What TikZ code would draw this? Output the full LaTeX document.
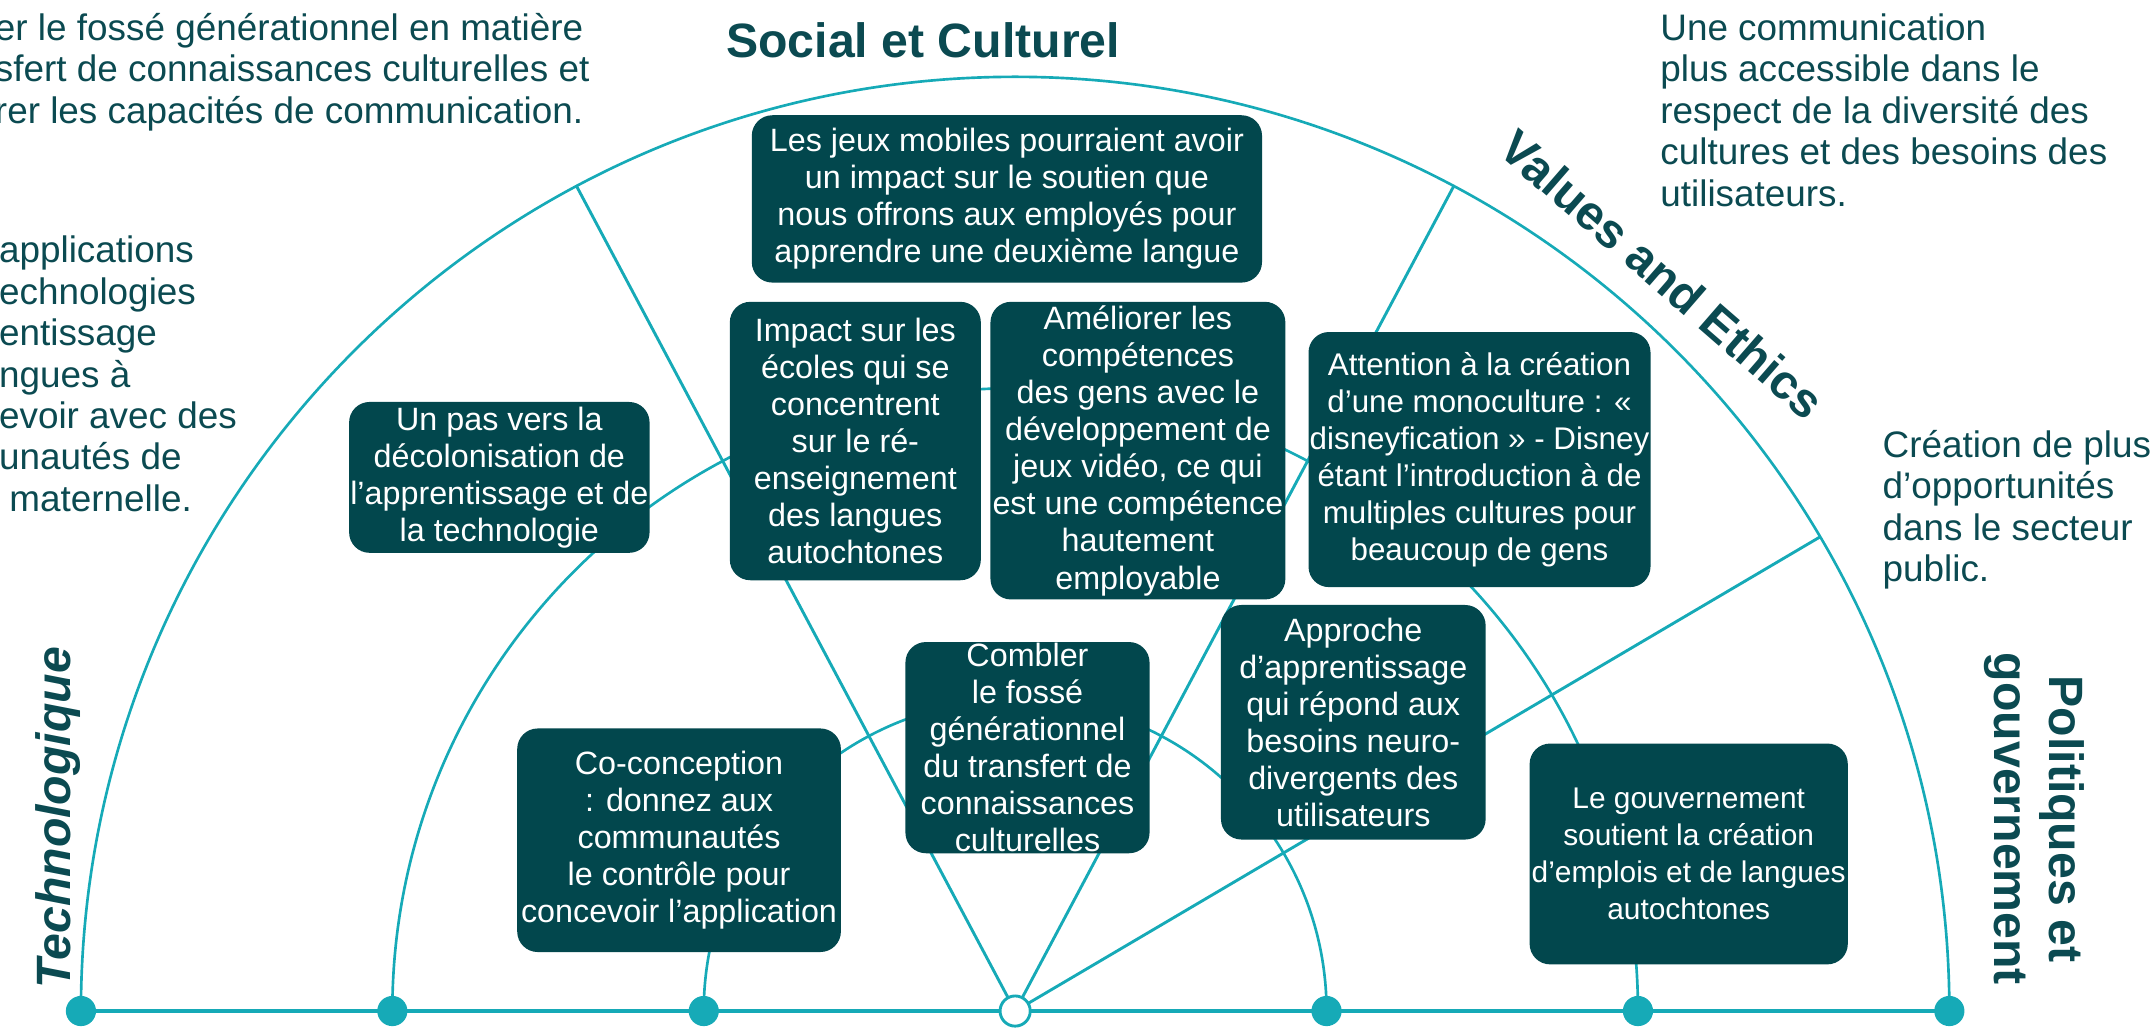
\documentclass[tikz,border=0pt]{standalone}
\usepackage{fontspec}
\setmainfont{Liberation Sans}
\usetikzlibrary{positioning,calc}

\definecolor{tealline}{HTML}{16AAB7}
\definecolor{tealbox}{HTML}{02474D}
\definecolor{tealtext}{HTML}{0B4A51}

\begin{document}
\begin{tikzpicture}[
    x=0.02cm, y=0.02cm,
    idea/.style={rectangle, rounded corners=8.5pt, fill=tealbox, text=white, align=center, inner xsep=0.5pt, inner ysep=0.5pt, font=\fontsize{13.4}{15.4}\selectfont},
    remark/.style={anchor=north west, inner sep=0pt, align=left, text=tealtext, font=\fontsize{15.3}{17.2}\selectfont},
    facet/.style={text=tealtext, align=center, inner sep=0pt, font=\fontsize{20}{23}\selectfont\bfseries},
    ring/.style={draw=tealline, line width=1.1pt},
    spoke/.style={draw=tealline, line width=1.2pt},
    basedot/.style={circle, fill=tealline, minimum size=0.44cm, inner sep=0pt}
]

% Frame
\useasboundingbox (0,0) rectangle (1568,-750);

% Points on the base line
\foreach \i/\xx in {1/59,2/286,3/513,4/740,5/967,6/1194,7/1421}
    \coordinate (p\i) at (\xx,-737);

% Rings
\draw[ring] (p1) arc[start angle=180, end angle=0, radius=681];
\draw[ring] (p2) arc[start angle=180, end angle=0, radius=454];
\draw[ring] (p3) arc[start angle=180, end angle=0, radius=227];

% Spokes
\coordinate (rim1) at ([shift={(30.5:681)}]p4);
\coordinate (rim2) at ([shift={(62:681)}]p4);
\coordinate (rim3) at ([shift={(118:681)}]p4);
\draw[spoke] (p4) -- (rim1);
\draw[spoke] (p4) -- (rim2);
\draw[spoke] (p4) -- (rim3);

% Base line and dots
\draw[tealline, line width=1.7pt] (p1) -- (p7);
\foreach \i in {1,2,3,5,6,7}
    \node[basedot] (d\i) at (p\i) {};
\node[basedot, fill=white, draw=tealline, line width=1.2pt] (hub) at (p4) {};

% Ideas
\node[idea, minimum width=7.44cm, minimum height=2.44cm] (jeux) at (734,-145) {Les jeux mobiles pourraient avoir\\un impact sur le soutien que\\nous offrons aux employés pour\\apprendre une deuxième langue};
\node[idea, minimum width=3.66cm, minimum height=4.06cm] (ecoles) at (623.5,-321.5) {Impact sur les\\écoles qui se\\concentrent\\sur le ré-\\enseignement\\des langues\\autochtones};
\node[idea, minimum width=4.30cm, minimum height=4.34cm, inner ysep=0pt] (competences) at (829.5,-328.5) {Améliorer les\\compétences\\des gens avec le\\développement de\\jeux vidéo, ce qui\\est une compétence\\hautement\\employable};
\node[idea, minimum width=4.36cm, minimum height=2.20cm] (decolonisation) at (364,-348) {Un pas vers la\\décolonisation de\\l’apprentissage et de\\la technologie};
\node[idea, minimum width=4.82cm, minimum height=3.72cm, font=\fontsize{13}{15.4}\selectfont] (monoculture) at (1078.5,-335) {Attention à la création\\d’une monoculture : «\\disneyfication » - Disney\\étant l’introduction à de\\multiples cultures pour\\beaucoup de gens};
\node[idea, minimum width=3.56cm, minimum height=3.08cm, inner ysep=-3pt] (fosse) at (749,-545) {Combler\\le fossé\\générationnel\\du transfert de\\connaissances\\culturelles};
\node[idea, minimum width=3.86cm, minimum height=3.42cm] (approche) at (986.5,-526.5) {Approche\\d’apprentissage\\qui répond aux\\besoins neuro-\\divergents des\\utilisateurs};
\node[idea, minimum width=4.72cm, minimum height=3.26cm] (coconception) at (495,-612.5) {Co-conception\\: donnez aux\\communautés\\le contrôle pour\\concevoir l’application};
\node[idea, minimum width=4.64cm, minimum height=3.22cm, font=\fontsize{12.4}{15.4}\selectfont] (gouvernement) at (1231,-622.5) {Le gouvernement\\soutient la création\\d’emplois et de langues\\autochtones};

% Facets
\node[facet] (social) at (673,-29) {Social et Culturel};
\node[facet, rotate=-41] (values) at (1212,-200) {Values and Ethics};
\node[facet, rotate=90, font=\fontsize{20}{23}\selectfont\bfseries\itshape] (techno) at (42,-596) {Technologique};
\node[facet, rotate=-90] (politiques) at (1483,-597) {Politiques et\\gouvernement};

% Remarks
\node[remark] (gap) at (-4,-8) {\strut er le fossé générationnel en matière\\sfert de connaissances culturelles et\\rer les capacités de communication.};
\node[remark] (apps) at (-1,-170) {\strut applications\\echnologies\\entissage\\ngues à\\evoir avec des\\unautés de\\\hspace*{0.28em}maternelle.};
\node[remark] (access) at (1210,-8) {\strut Une communication\\plus accessible dans le\\respect de la diversité des\\cultures et des besoins des\\utilisateurs.};
\node[remark] (public) at (1372,-312) {\strut Création de plus\\d’opportunités\\dans le secteur\\public.};

\end{tikzpicture}
\end{document}
